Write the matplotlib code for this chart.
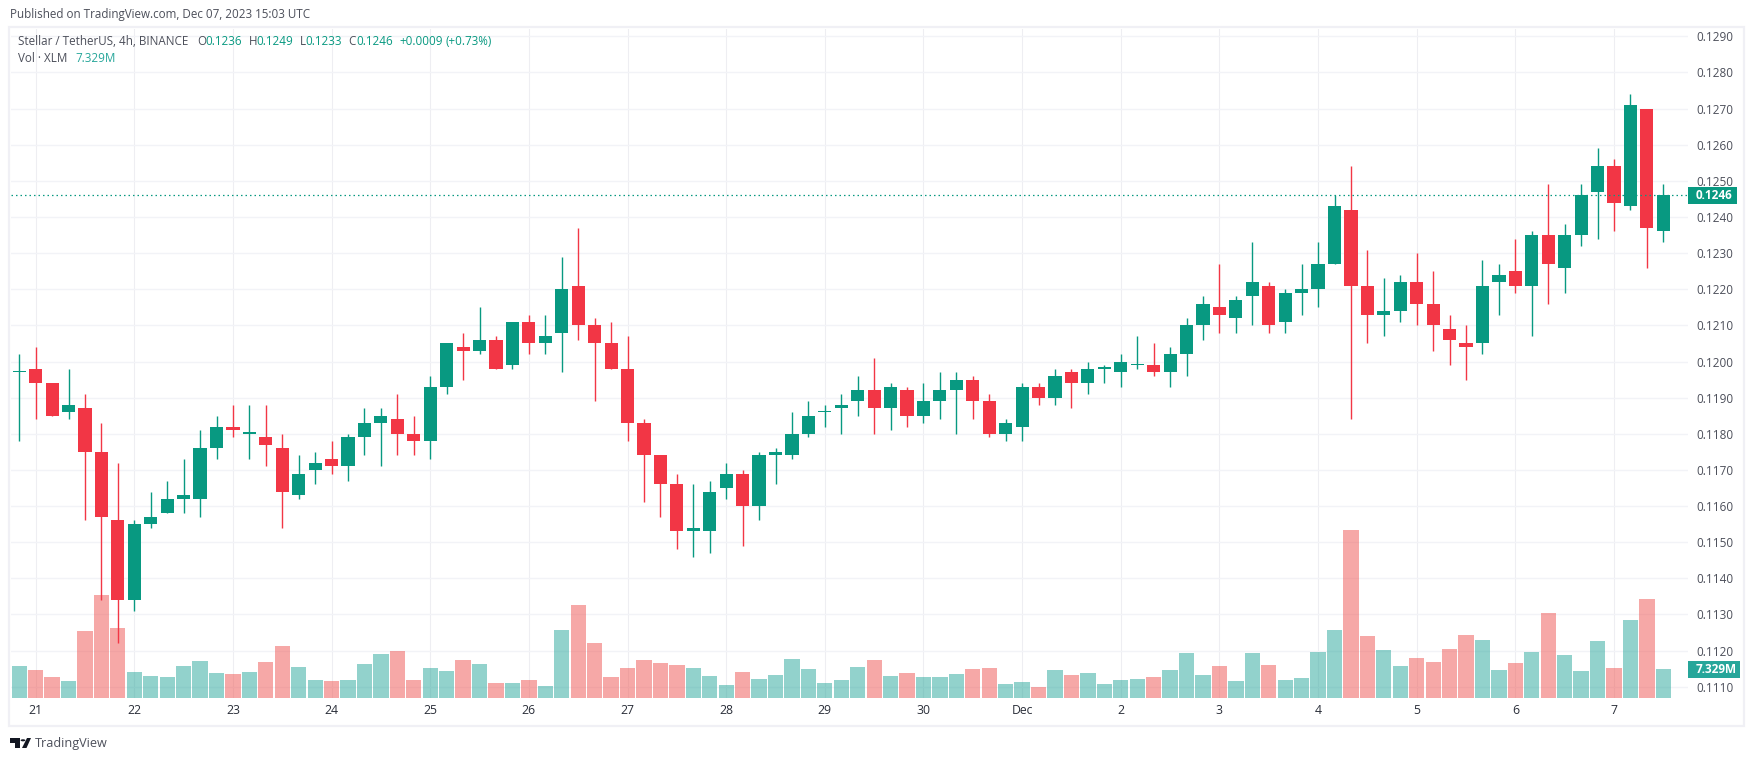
import matplotlib
matplotlib.use('Agg')
import matplotlib.pyplot as plt
from matplotlib.patches import Rectangle, Polygon, Circle
import numpy as np

W, H = 1754, 761

# Candle data, 4h candles from Nov 20 20:00 to Dec 7 12:00
opens = [.1197, .1198, .1194, .1186, .1187, .1175, .1156, .1134, .1155, .1158, .1162, .1162, .1176, .1182, .1180, .1179, .1176,
         .1163, .1170, .1173, .1171, .1179, .1183, .1184, .1180, .1178, .1193, .1204, .1203, .1206, .1199, .1211, .1205, .1208,
         .1221, .1210, .1205, .1198, .1183, .1174, .1166, .1153, .1153, .1165, .1169, .1160, .1174, .1174, .1180, .1186, .1187,
         .1189, .1192, .1187, .1192, .1185, .1189, .1192, .1195, .1189, .1180, .1182, .1193, .1190, .1197, .1194, .1198, .1197,
         .1199, .1199, .1197, .1202, .1210, .1215, .1212, .1218, .1221, .1211, .1219, .1220, .1227, .1242, .1221, .1213, .1214,
         .1222, .1216, .1209, .1205, .1205, .1222, .1225, .1221, .1235, .1226, .1235, .1247, .1254, .1243, .1270, .1236]
highs = [.1202, .1204, .1194, .1198, .1191, .1183, .1172, .1156, .1164, .1167, .1173, .1181, .1185, .1188, .1188, .1188, .1180,
         .1174, .1175, .1178, .1180, .1187, .1187, .1191, .1185, .1196, .1205, .1208, .1215, .1207, .1211, .1213, .1213, .1229,
         .1237, .1212, .1211, .1207, .1184, .1174, .1169, .1166, .1167, .1172, .1170, .1175, .1176, .1186, .1189, .1188, .1191,
         .1196, .1201, .1194, .1193, .1194, .1197, .1197, .1196, .1191, .1184, .1194, .1194, .1198, .1198, .1200, .1199, .1202,
         .1207, .1205, .1204, .1212, .1218, .1227, .1218, .1233, .1222, .1220, .1227, .1233, .1246, .1254, .1231, .1223, .1224,
         .1230, .1225, .1213, .1210, .1228, .1227, .1234, .1236, .1249, .1238, .1249, .1259, .1256, .1274, .1270, .1249]
lows = [.1178, .1184, .1185, .1184, .1156, .1134, .1122, .1131, .1154, .1158, .1158, .1157, .1173, .1179, .1173, .1171, .1154,
        .1162, .1166, .1169, .1167, .1174, .1171, .1174, .1174, .1173, .1191, .1195, .1202, .1198, .1198, .1202, .1202, .1197,
        .1206, .1189, .1198, .1178, .1161, .1157, .1148, .1146, .1147, .1162, .1149, .1156, .1166, .1173, .1179, .1182, .1180,
        .1185, .1180, .1181, .1182, .1183, .1184, .1180, .1184, .1179, .1178, .1178, .1188, .1188, .1187, .1191, .1194, .1193,
        .1198, .1196, .1193, .1196, .1206, .1208, .1208, .1210, .1208, .1208, .1213, .1215, .1227, .1184, .1205, .1207, .1211,
        .1210, .1203, .1199, .1195, .1202, .1213, .1219, .1207, .1216, .1219, .1232, .1234, .1236, .1242, .1226, .1233]
closes = [.1197, .1194, .1185, .1188, .1175, .1157, .1134, .1155, .1157, .1162, .1163, .1176, .1182, .1181, .1180, .1177, .1164,
          .1169, .1172, .1171, .1179, .1183, .1185, .1180, .1178, .1193, .1205, .1203, .1206, .1198, .1211, .1205, .1207, .1220,
          .1210, .1205, .1198, .1183, .1174, .1166, .1153, .1154, .1164, .1169, .1160, .1174, .1175, .1180, .1185, .1186, .1188,
          .1192, .1187, .1193, .1185, .1189, .1192, .1195, .1189, .1180, .1183, .1193, .1190, .1196, .1194, .1198, .1198, .1200,
          .1199, .1197, .1202, .1210, .1216, .1213, .1217, .1222, .1210, .1219, .1220, .1227, .1243, .1221, .1213, .1214, .1222,
          .1216, .1210, .1206, .1204, .1221, .1224, .1221, .1235, .1227, .1235, .1246, .1254, .1244, .1271, .1237, .1246]
# Volume in millions
volumes = [8.09, 7.08, 5.31, 4.30, 16.93, 26.03, 17.69, 6.57, 5.56, 5.31, 8.09, 9.35, 6.32, 6.07, 6.57, 9.10, 13.14,
           7.83, 4.55, 4.30, 4.55, 8.59, 11.12, 11.88, 4.55, 7.58, 6.82, 9.60, 8.59, 3.79, 3.79, 4.55, 3.03, 17.18,
           23.50, 13.90, 5.31, 7.58, 9.60, 8.85, 8.34, 7.58, 5.56, 3.29, 6.57, 4.80, 5.81, 9.86, 7.33, 3.79, 4.55,
           7.83, 9.60, 5.56, 6.32, 5.31, 5.31, 6.07, 7.33, 7.58, 3.54, 4.04, 2.78, 7.08, 5.81, 6.32, 3.54, 4.55,
           4.80, 5.31, 7.08, 11.37, 5.81, 8.09, 4.30, 11.37, 8.34, 4.55, 5.05, 11.63, 17.18, 42.46, 15.67, 12.13, 8.09,
           10.11, 9.10, 12.38, 15.92, 14.66, 7.08, 8.85, 11.63, 21.48, 10.87, 6.82, 14.41, 7.58, 19.71, 25.02, 7.329]

price_ticks = [.1110, .1120, .1130, .1140, .1150, .1160, .1170, .1180, .1190, .1200,
               .1210, .1220, .1230, .1240, .1250, .1260, .1270, .1280, .1290]
day_ticks = [1, 7, 13, 19, 25, 31, 37, 43, 49, 55, 61, 67, 73, 79, 85, 91, 97]
day_labels = ['21', '22', '23', '24', '25', '26', '27', '28', '29', '30', 'Dec', '2', '3', '4', '5', '6', '7']
last_price = 0.1246

GREEN = '#089981'
RED = '#F23645'
VOL_GREEN = '#26a69a'
VOL_RED = '#ef5350'
GREY = '#4c4f5a'
FONT = ['Open Sans', 'DejaVu Sans']

plt.rcParams['font.family'] = FONT


# Convert pixels in the picture to figure fractions
def fx(px):
    return px / W


def fy(py):
    return 1 - py / H


def px_rect(x0, y0, x1, y1, **kw):
    fig.add_artist(Rectangle((fx(x0), fy(y1)), fx(x1) - fx(x0), fy(y0) - fy(y1), transform=fig.transFigure, **kw))


fig = plt.figure(figsize=(W / 100, H / 100), dpi=100, facecolor='white')
pos = [fx(11), fy(698), fx(1688) - fx(11), fy(29) - fy(698)]
xlim = (-0.499, 101.5)
ylim = (0.110686, 0.129204)

# Back axes holds the grid and the tick labels
ax_bg = fig.add_axes(pos, zorder=0)
ax_bg.set_xlim(xlim)
ax_bg.set_ylim(ylim)
for side in ax_bg.spines:
    ax_bg.spines[side].set_visible(False)
ax_bg.yaxis.tick_right()
ax_bg.set_yticks(price_ticks)
ax_bg.set_yticklabels(['%.4f' % p for p in price_ticks], fontsize=8.5, color=GREY)
ax_bg.set_xticks(day_ticks)
ax_bg.set_xticklabels(day_labels, fontsize=8.8, color='#2a2e39')
ax_bg.tick_params(axis='y', length=0, pad=5.8)
ax_bg.tick_params(axis='x', length=0, pad=4.5)
ax_bg.grid(True, axis='y', color='#f2f3f7', linewidth=1.0)
ax_bg.grid(True, axis='x', color='#eeeef2', linewidth=0.8)
ax_bg.set_axisbelow(True)

# Volume bars
ax_vol = fig.add_axes(pos, zorder=1)
ax_vol.patch.set_visible(False)
ax_vol.axis('off')
ax_vol.set_xlim(xlim)
ax_vol.set_ylim(0, 169.07)

xs = np.arange(len(closes))
o = np.array(opens)
c = np.array(closes)
up = c >= o
ax_vol.bar(xs, volumes, width=0.93, color=[VOL_GREEN if u else VOL_RED for u in up], alpha=0.5, linewidth=0)

# Candles
ax = fig.add_axes(pos, zorder=2)
ax.patch.set_visible(False)
ax.axis('off')
ax.set_xlim(xlim)
ax.set_ylim(ylim)
colors = [GREEN if u else RED for u in up]
ax.vlines(xs, lows, highs, colors=colors, linewidth=1.0)
heights = np.maximum(np.abs(c - o), 0.00004)
ax.bar(xs, heights, bottom=np.minimum(o, c), width=0.8, color=colors, linewidth=0)
ax.axhline(last_price, color=GREEN, linewidth=0.9, linestyle=(0, (1.2, 2.4)))

# Frame around the chart
px_rect(9, 27, 1744, 726, facecolor='none', edgecolor='#f0f0f5', linewidth=1.6, zorder=5)

# Badges on the price axis
px_rect(1688, 187, 1737, 204, facecolor=GREEN, edgecolor='none', zorder=6)
fig.text(fx(1696), fy(195.5), '0.1246', color='white', fontsize=8.5, fontweight='bold', va='center', zorder=7)
px_rect(1688, 661, 1740, 678, facecolor=VOL_GREEN, edgecolor='none', zorder=6)
fig.text(fx(1696), fy(669.5), '7.329M', color='white', fontsize=8.5, fontweight='bold', va='center', zorder=7)

# Header and legend texts
fig.text(fx(10), fy(14.7), 'Published on TradingView.com, Dec 07, 2023 15:03 UTC', fontsize=8.35, color=GREY, va='center')
legend_row = [(18, 'Stellar / TetherUS, 4h, BINANCE', GREY), (197, 'O', GREY), (205.5, '0.1236', GREEN),
              (248.8, 'H', GREY), (256.4, '0.1249', GREEN), (300, 'L', GREY), (305.5, '0.1233', GREEN),
              (348.7, 'C', GREY), (356, '0.1246', GREEN), (399, '+0.0009', GREEN), (445, '(+0.73%)', GREEN)]
for x, label, col in legend_row:
    fig.text(fx(x), fy(41.7), label, fontsize=8.4, color=col, va='center')
fig.text(fx(18), fy(59), 'Vol · XLM', fontsize=8.4, color=GREY, va='center')
fig.text(fx(75), fy(59), '7.329M', fontsize=8.4, color=VOL_GREEN, va='center')

# TradingView logo
LOGO = '#131722'
px_rect(10, 738, 19.5, 743, facecolor=LOGO, edgecolor='none')
px_rect(15, 738, 19.5, 748, facecolor=LOGO, edgecolor='none')
fig.add_artist(Polygon([(fx(22), fy(748)), (fx(27), fy(738)), (fx(31), fy(738)), (fx(26.5), fy(748))],
                       transform=fig.transFigure, facecolor=LOGO, edgecolor='none'))
fig.add_artist(Circle((fx(23), fy(740.3)), 2.4 / W, transform=fig.transFigure, facecolor=LOGO, edgecolor='none'))
fig.text(fx(35), fy(743), 'TradingView', fontsize=9.1, color=GREY, va='center')

fig.savefig('out.png', dpi=100)
